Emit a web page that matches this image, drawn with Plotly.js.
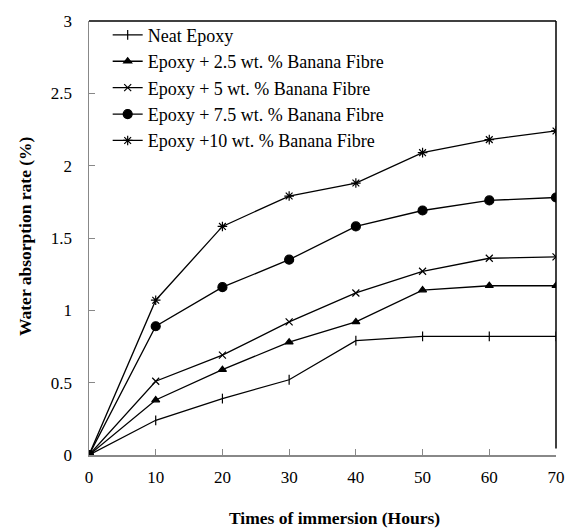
<!DOCTYPE html>
<html>
<head>
<meta charset="utf-8">
<script src="https://cdn.plot.ly/plotly-3.0.1.min.js"></script>
<style>html,body{margin:0;padding:0;background:#fff;}#chart{width:572px;height:531px;}</style>
</head>
<body>
<div id="chart"></div>
<script>
const hours = [0, 10, 20, 30, 40, 50, 60, 70];
const neatEpoxy = [0, 0.24, 0.39, 0.52, 0.79, 0.82, 0.82, 0.82];
const fibre2_5 = [0, 0.38, 0.59, 0.78, 0.92, 1.14, 1.17, 1.17];
const fibre5 = [0, 0.51, 0.69, 0.92, 1.12, 1.27, 1.36, 1.37];
const fibre7_5 = [0, 0.89, 1.16, 1.35, 1.58, 1.69, 1.76, 1.78];
const fibre10 = [0, 1.07, 1.58, 1.79, 1.88, 2.09, 2.18, 2.24];
const seriesNames = [
  "Neat Epoxy",
  "Epoxy + 2.5 wt. % Banana Fibre",
  "Epoxy + 5 wt. % Banana Fibre",
  "Epoxy + 7.5 wt. % Banana Fibre",
  "Epoxy +10 wt. % Banana Fibre"
];
const yTicks = [0, 0.5, 1, 1.5, 2, 2.5, 3];
const yTickText = ["0", "0.5", "1", "1.5", "2", "2.5", "3"];
const xTicks = [0, 10, 20, 30, 40, 50, 60, 70];
const xTitle = "Times of immersion (Hours)";
const yTitle = "Water absorption rate (%)";

const symbols = ["line-ns-open", "triangle-up", "x-thin-open", "circle", "asterisk-open"];
const sizes = [7, 7, 7, 9, 8];
const data = [neatEpoxy, fibre2_5, fibre5, fibre7_5, fibre10];

const traces = data.map((ys, i) => ({
  x: hours, y: ys, name: seriesNames[i], type: "scatter", mode: "lines+markers",
  line: {color: "#000", width: 1.3},
  marker: {symbol: symbols[i], size: sizes[i], color: "#000", line: {color: "#000", width: 1.2}}
}));

const font = "'Liberation Serif', 'Times New Roman', serif";
const layout = {
  width: 572, height: 531,
  margin: {l: 89, r: 16, t: 21, b: 76},
  paper_bgcolor: "#fff", plot_bgcolor: "#fff",
  font: {family: font, size: 18, color: "#000"},
  showlegend: true,
  legend: {x: 0.04, y: 1.01, xanchor: "left", yanchor: "top", bgcolor: "rgba(0,0,0,0)",
    font: {family: font, size: 18, color: "#000"}, itemwidth: 30},
  xaxis: {
    range: [0, 70], tickvals: xTicks, ticktext: xTicks.map(String),
    showgrid: false, zeroline: false, showline: true, linecolor: "#888", linewidth: 1.5,
    ticks: "inside", ticklen: 6, tickcolor: "#888", tickwidth: 1,
    ticklabelstandoff: 6,
    tickfont: {family: font, size: 17, color: "#000"}
  },
  yaxis: {
    range: [0, 3], tickvals: yTicks, ticktext: yTickText,
    showgrid: false, zeroline: false, showline: true, linecolor: "#888", linewidth: 1.5,
    ticks: "inside", ticklen: 6, tickcolor: "#888", tickwidth: 1,
    ticklabelstandoff: 12,
    tickfont: {family: font, size: 17, color: "#000"}
  },
  annotations: [
    {text: "<b>" + xTitle + "</b>", xref: "paper", yref: "paper", x: (334 - 89) / 467, y: -(518 - 455) / 434,
      xanchor: "center", yanchor: "middle", showarrow: false, font: {family: font, size: 17.5, color: "#000"}},
    {text: "<b>" + yTitle + "</b>", xref: "paper", yref: "paper", x: -(89 - 25) / 467, y: (455 - 236) / 434,
      xanchor: "center", yanchor: "middle", textangle: -90, showarrow: false, font: {family: font, size: 17.5, color: "#000"}}
  ],
  shapes: [
    {type: "line", xref: "paper", yref: "paper", x0: 0, x1: 1, y0: 1, y1: 1, line: {color: "#000", width: 1.5}},
    {type: "line", xref: "paper", yref: "paper", x0: 1, x1: 1, y0: 0.015, y1: 1, line: {color: "#000", width: 1.5}}
  ]
};

Plotly.newPlot("chart", traces, layout, {displayModeBar: false, staticPlot: true});
</script>
</body>
</html>
